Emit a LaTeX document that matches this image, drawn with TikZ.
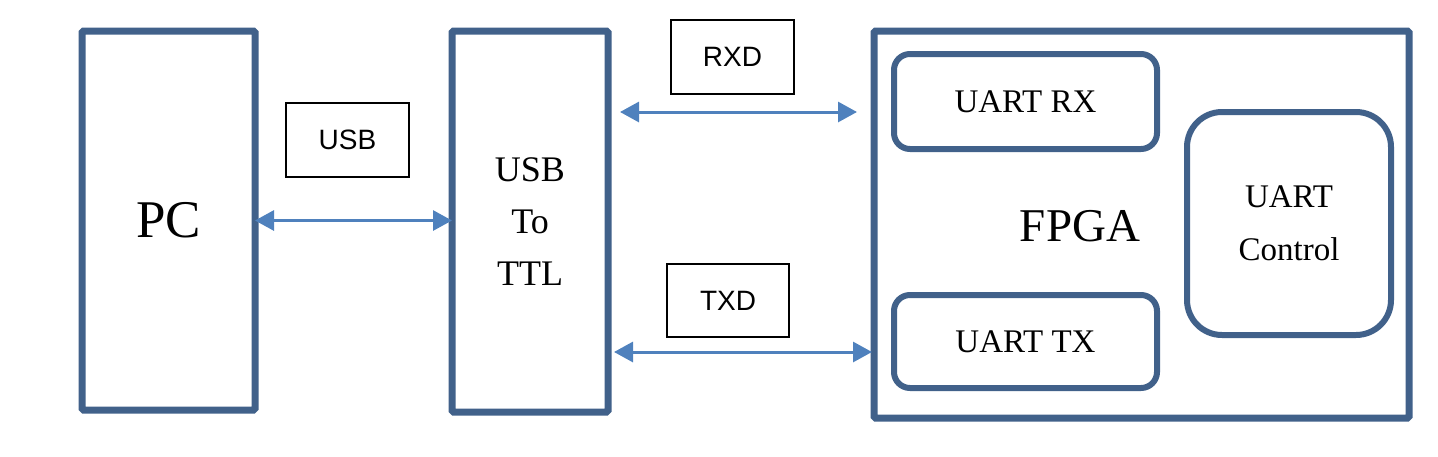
\documentclass[tikz,border=0pt]{standalone}
\usepackage{fontspec}
\setmainfont{Liberation Serif}
\newfontfamily\lblfont{Liberation Sans}
\usetikzlibrary{arrows.meta}
\definecolor{boxblue}{RGB}{65,97,138}
\definecolor{arrblue}{RGB}{79,129,189}
\begin{document}
\begin{tikzpicture}[x=1pt,y=-1pt,
  blk/.style={draw=boxblue,line width=7pt,outer sep=0pt,inner sep=0pt,rounded corners=1.5pt,align=center},
  rblk/.style={draw=boxblue,line width=6pt,outer sep=0pt,inner sep=0pt,align=center},
  lbl/.style={draw=black,line width=1.5pt,outer sep=0pt,inner sep=0pt,font=\lblfont\fontsize{28}{34}\selectfont},
  arr/.style={draw=arrblue,line width=3pt,{Triangle[length=19pt,width=20pt]}-{Triangle[length=19pt,width=20pt]}}
]
\useasboundingbox (0,0) rectangle (1438,456);
\node[blk,minimum width=173pt,minimum height=379pt,font=\fontsize{53}{60}\selectfont] (pc) at (168.5,220.5) {PC};
\node[blk,minimum width=156pt,minimum height=381pt,font=\fontsize{36}{52}\selectfont] (ttl) at (530,221.5) {USB\\To\\TTL};
\node[blk,minimum width=535pt,minimum height=387pt] (fpga) at (1141.5,224.5) {};
\node[font=\fontsize{47}{56}\selectfont] (fpgalbl) at (1080,226) {FPGA};
\node[rblk,rounded corners=16pt,minimum width=263pt,minimum height=95pt,font=\fontsize{33}{40}\selectfont] (rx) at (1025.5,101.5) {UART RX};
\node[rblk,rounded corners=16pt,minimum width=263pt,minimum height=93pt,font=\fontsize{33}{40}\selectfont] (tx) at (1025.5,341.5) {UART TX};
\node[rblk,rounded corners=35pt,minimum width=204pt,minimum height=223pt,font=\fontsize{33}{53}\selectfont] (ctrl) at (1289,223.5) {UART\\Control};
\node[lbl,minimum width=123pt,minimum height=74pt] (usb) at (347.5,140) {USB};
\node[lbl,minimum width=123pt,minimum height=74pt] (rxd) at (732.5,57) {RXD};
\node[lbl,minimum width=122pt,minimum height=73pt] (txd) at (728,300.5) {TXD};
\draw[arr] (pc.east) -- (pc.east -| ttl.west);
\draw[arr,shorten <=12pt,shorten >=17pt] ([yshift=109.5pt]ttl.east) -- ([yshift=109.5pt]ttl.east -| fpga.west);
\draw[arr,shorten <=6pt,shorten >=2pt] ([yshift=-130.5pt]ttl.east) -- ([yshift=-130.5pt]ttl.east -| fpga.west);
\end{tikzpicture}
\end{document}
